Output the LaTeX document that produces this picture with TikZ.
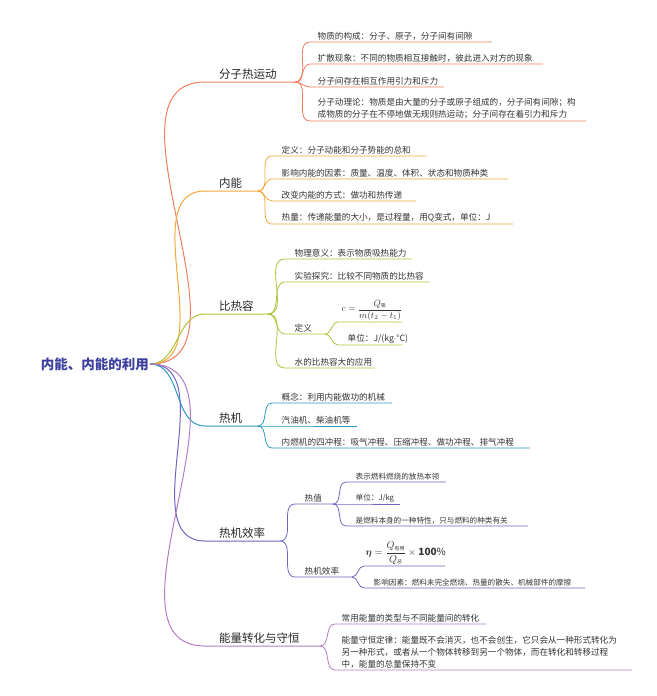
\documentclass[tikz,border=0pt]{standalone}
\usepackage{fontspec}
\usepackage{amsmath}
\setmainfont{Noto Sans CJK SC}
\usetikzlibrary{positioning}
\definecolor{cA}{HTML}{EE7D5C}
\definecolor{cB}{HTML}{F2A73B}
\definecolor{cC}{HTML}{A9C63A}
\definecolor{cD}{HTML}{2A9AC4}
\definecolor{cE}{HTML}{6D67C4}
\definecolor{cF}{HTML}{B27CC6}
\definecolor{rootc}{HTML}{3C3F9C}

\begin{document}
\begin{tikzpicture}[x=1pt,y=-1pt]
    \tikzset{branch/.style={line width=1pt},
             link/.style={line width=0.8pt},
             main/.style={anchor=south west, inner sep=2pt, font=\fontsize{11.5}{13}\selectfont, text=black!85},
             leaf/.style={anchor=south west, inner sep=1.5pt, font=\fontsize{8.6}{12}\selectfont, text=black!80, align=left},
             small/.style={leaf, font=\fontsize{7.6}{10}\selectfont}}
    \useasboundingbox (0,0) rectangle (656,696);

    \node[font=\bfseries\fontsize{13.5}{15}\selectfont, text=rootc, anchor=east, inner sep=1pt] (root) at (150,364) {内能、内能的利用};

%   main branches
    \coordinate (A) at (205,82);  \coordinate (Ae) at (295,82);
    \coordinate (B) at (205,191); \coordinate (Be) at (258,191);
    \coordinate (C) at (205,314); \coordinate (Ce) at (268,314);
    \coordinate (D) at (205,426); \coordinate (De) at (258,426);
    \coordinate (E) at (205,541); \coordinate (Ee) at (280,541);
    \coordinate (F) at (205,646); \coordinate (Fe) at (320,646);
    \node[main] (tA) at (217,82) {分子热运动};
    \node[main] (tB) at (217,191) {内能};
    \node[main] (tC) at (217,314) {比热容};
    \node[main] (tD) at (217,426) {热机};
    \node[main] (tE) at (217,541) {热机效率};
    \node[main] (tF) at (217,646) {能量转化与守恒};
    \foreach \b/\c in {A/cA,B/cB,C/cC,D/cD,E/cE,F/cF}
        \draw[branch,\c] (root.east) to[out=0,in=180] (\b) -- (\b e);

%   分子热运动
    \foreach \n/\y/\e in {1/42/492,2/64/543,3/87/444,4/121/586}{
        \coordinate (A\n) at (310,\y); \coordinate (A\n e) at (\e,\y);
        \draw[link,cA] (Ae) to[out=0,in=180] (A\n) -- (A\n e);
    }
    \node[leaf] (tA1) at (A1) {\hspace{6pt}物质的构成：分子、原子，分子间有间隙};
    \node[leaf] (tA2) at (A2) {\hspace{6pt}扩散现象：不同的物质相互接触时，彼此进入对方的现象};
    \node[leaf] (tA3) at (A3) {\hspace{6pt}分子间存在相互作用引力和斥力};
    \node[leaf] (tA4) at (A4) {\hspace{6pt}分子动理论：物质是由大量的分子或原子组成的，分子间有间隙；构\\\hspace{6pt}成物质的分子在不停地做无规则热运动；分子间存在着引力和斥力};

%   内能
    \foreach \n/\y/\e in {1/156/426,2/179/508,3/201/416,4/224/513}{
        \coordinate (B\n) at (272,\y); \coordinate (B\n e) at (\e,\y);
        \draw[link,cB] (Be) to[out=0,in=180] (B\n) -- (B\n e);
    }
    \node[leaf] (tB1) at (B1) {\hspace{8pt}定义：分子动能和分子势能的总和};
    \node[leaf] (tB2) at (B2) {\hspace{8pt}影响内能的因素：质量、温度、体积、状态和物质种类};
    \node[leaf] (tB3) at (B3) {\hspace{8pt}改变内能的方式：做功和热传递};
    \node[leaf] (tB4) at (B4) {\hspace{8pt}热量：传递能量的大小，是过程量，用Q变式，单位：J};

%   比热容
    \foreach \n/\y/\e in {1/259/412,2/282/430,3/334/325,4/368/375}{
        \coordinate (C\n) at (285,\y); \coordinate (C\n e) at (\e,\y);
        \draw[link,cC] (Ce) to[out=0,in=180] (C\n) -- (C\n e);
    }
    \node[leaf] (tC1) at (C1) {\hspace{8pt}物理意义：表示物质吸热能力};
    \node[leaf] (tC2) at (C2) {\hspace{8pt}实验探究：比较不同物质的比热容};
    \node[leaf] (tC3) at (C3) {\hspace{8pt}定义};
    \node[leaf] (tC4) at (C4) {\hspace{8pt}水的比热容大的应用};
    \foreach \n/\y in {1/322,2/345}{
        \coordinate (C3\n) at (338,\y); \coordinate (C3\n e) at (402,\y);
        \draw[link,cC] (C3e) to[out=0,in=180] (C3\n) -- (C3\n e);
    }
    \node[leaf, font=\fontsize{9}{10}\selectfont] (tC31) at (C31) {\hspace{2pt}$c=\dfrac{Q_{\mbox{\tiny 吸}}}{m(t_2-t_1)}$};
    \node[leaf] (tC32) at (C32) {\hspace{8pt}单位：J/(kg$\cdot$°C)};

%   热机
    \foreach \n/\y/\e in {1/403/392,2/426/357,3/448/530}{
        \coordinate (D\n) at (272,\y); \coordinate (D\n e) at (\e,\y);
        \draw[link,cD] (De) to[out=0,in=180] (D\n) -- (D\n e);
    }
    \node[leaf] (tD1) at (D1) {\hspace{8pt}概念：利用内能做功的机械};
    \node[leaf] (tD2) at (D2) {\hspace{8pt}汽油机、柴油机等};
    \node[leaf] (tD3) at (D3) {\hspace{8pt}内燃机的四冲程：吸气冲程、压缩冲程、做功冲程、排气冲程};

%   热机效率
    \foreach \n/\y/\e in {1/504/333,2/577/352}{
        \coordinate (E\n) at (295,\y); \coordinate (E\n e) at (\e,\y);
        \draw[link,cE] (Ee) to[out=0,in=180] (E\n) -- (E\n e);
    }
    \node[leaf] (tE1) at (E1) {\hspace{8pt}热值};
    \node[leaf] (tE2) at (E2) {\hspace{8pt}热机效率};
    \foreach \n/\y/\e in {1/482/446,2/504/400,3/526/528}{
        \coordinate (E1\n) at (346,\y); \coordinate (E1\n e) at (\e,\y);
        \draw[link,cE] (E1e) to[out=0,in=180] (E1\n) -- (E1\n e);
    }
    \node[small] (tE11) at (E11) {\hspace{8pt}表示燃料燃烧的放热本领};
    \node[small] (tE12) at (E12) {\hspace{8pt}单位：J/kg};
    \node[small] (tE13) at (E13) {\hspace{8pt}是燃料本身的一种特性，只与燃料的种类有关};
    \foreach \n/\y/\e in {1/566/445,2/588/585}{
        \coordinate (E2\n) at (364,\y); \coordinate (E2\n e) at (\e,\y);
        \draw[link,cE] (E2e) to[out=0,in=180] (E2\n) -- (E2\n e);
    }
    \node[leaf, font=\fontsize{10}{11}\selectfont] (tE21) at (E21) {$\boldsymbol{\eta}=\dfrac{Q_{\mbox{\tiny 有用}}}{Q_{\mbox{\tiny 总}}}\times\mathbf{100\%}$};
    \node[small] (tE22) at (E22) {\hspace{8pt}影响因素：燃料未完全燃烧、热量的散失、机械部件的摩擦};

%   能量转化与守恒
    \foreach \n/\y/\e in {1/624/486,2/670/632}{
        \coordinate (F\n) at (335,\y); \coordinate (F\n e) at (\e,\y);
        \draw[link,cF] (Fe) to[out=0,in=180] (F\n) -- (F\n e);
    }
    \node[leaf] (tF1) at (F1) {\hspace{5pt}常用能量的类型与不同能量间的转化};
    \node[leaf] (tF2) at (F2) {\hspace{5pt}能量守恒定律：能量既不会消灭，也不会创生，它只会从一种形式转化为\\\hspace{5pt}另一种形式，或者从一个物体转移到另一个物体，而在转化和转移过程\\\hspace{5pt}中，能量的总量保持不变};
\end{tikzpicture}
\end{document}
